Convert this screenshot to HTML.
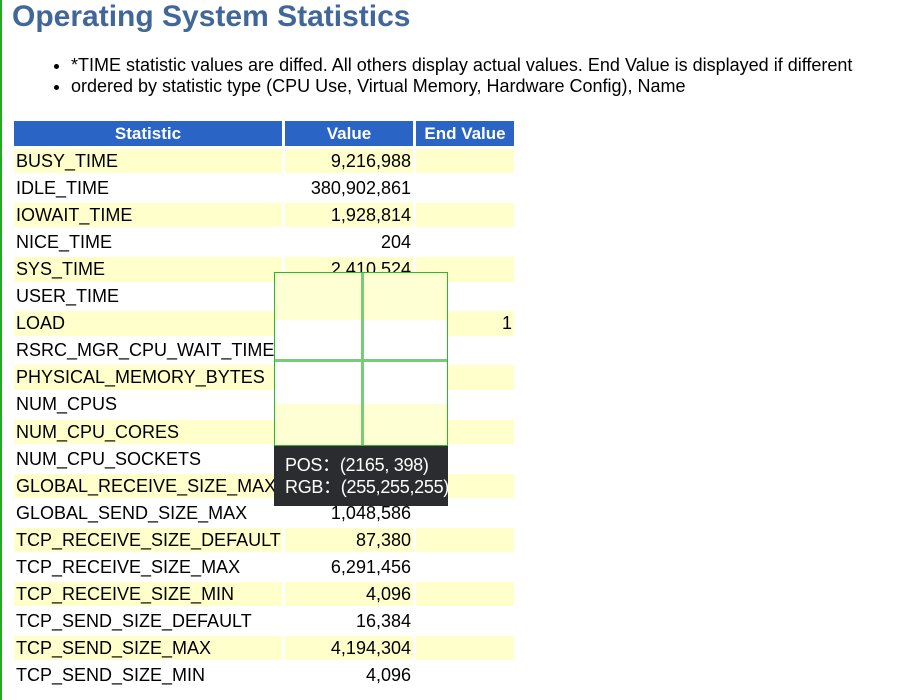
<!DOCTYPE html>
<html><head><meta charset="utf-8"><style>
body{margin:0;width:919px;height:700px;overflow:hidden;background:#fff;font-family:"Liberation Sans",Arial,sans-serif;position:relative}
.abs{position:absolute}
h1{position:absolute;left:12px;top:0px;margin:0;font-size:30px;font-weight:bold;color:#41679a;white-space:nowrap}
ul{position:absolute;left:35px;top:55px;margin:0;padding-left:36px;font-size:18px;line-height:21px;color:#000}
.c{position:absolute;font-size:18px;line-height:24px;white-space:nowrap;color:#000}
.hd{background:#2a64c5;color:#fff;font-weight:bold;text-align:center;font-size:17px}
</style></head><body>
<div class="abs" style="left:0;top:0;width:2px;height:700px;background:#22aa22"></div>
<h1>Operating System Statistics</h1>
<ul>
<li>*TIME statistic values are diffed. All others display actual values. End Value is displayed if different</li>
<li>ordered by statistic type (CPU Use, Virtual Memory, Hardware Config), Name</li>
</ul>
<div id="tbl"></div>
<div class="abs" style="left:274px;top:272px;width:172px;height:172px;border:1px solid #2cb82c;background:linear-gradient(#ffffd4 0 47px,#fff 47px 131px,#ffffd4 131px)"></div>
<div class="abs" style="left:361px;top:273px;width:3px;height:172px;background:#77cc77"></div>
<div class="abs" style="left:275px;top:359px;width:172px;height:3px;background:#77cc77"></div>
<div class="abs" style="left:274px;top:446px;width:174px;height:60px;background:#2b2c2f;color:#fff;font-family:'Liberation Sans','Noto Sans CJK SC',sans-serif;font-size:18px;line-height:22px;padding:8px 0 0 11px;box-sizing:border-box;white-space:nowrap;letter-spacing:-0.3px">POS：(2165, 398)<br>RGB：(255,255,255)</div>
<script>
const names=["BUSY_TIME","IDLE_TIME","IOWAIT_TIME","NICE_TIME","SYS_TIME","USER_TIME","LOAD","RSRC_MGR_CPU_WAIT_TIME","PHYSICAL_MEMORY_BYTES","NUM_CPUS","NUM_CPU_CORES","NUM_CPU_SOCKETS","GLOBAL_RECEIVE_SIZE_MAX","GLOBAL_SEND_SIZE_MAX","TCP_RECEIVE_SIZE_DEFAULT","TCP_RECEIVE_SIZE_MAX","TCP_RECEIVE_SIZE_MIN","TCP_SEND_SIZE_DEFAULT","TCP_SEND_SIZE_MAX","TCP_SEND_SIZE_MIN"];
const values=["9,216,988","380,902,861","1,928,814","204","2,410,524","6,806,464","0","0","16,655,785,984","4","4","2","4,194,304","1,048,586","87,380","6,291,456","4,096","16,384","4,194,304","4,096"];
const endValues=["","","","","","","1","","","","","","","","","","","","",""];
const t=document.getElementById('tbl');
const cols=[[14,268],[285,128],[416,98]];
const heads=["Statistic","Value","End Value"];
heads.forEach((h,j)=>{const d=document.createElement('div');d.className='c hd';


d.style.left=cols[j][0]+'px';d.style.width=cols[j][1]+'px';d.style.top='121px';d.style.height='25px';d.style.lineHeight='25px';d.textContent=h;t.appendChild(d);});
names.forEach((n,i)=>{const top=149+27.05*i;const bg=i%2==0?'#ffffcc':'#fff';
[n,values[i],endValues[i]].forEach((v,j)=>{const d=document.createElement('div');d.className='c';


d.style.left=cols[j][0]+'px';d.style.width=cols[j][1]+'px';d.style.top=top+'px';d.style.height='24.4px';d.style.background=bg;
if(j==0){d.style.paddingLeft='2px';d.style.boxSizing='border-box';}else{d.style.textAlign='right';d.style.paddingRight='2px';d.style.boxSizing='border-box';}
d.textContent=v;t.appendChild(d);});});
</script>
</body></html>
